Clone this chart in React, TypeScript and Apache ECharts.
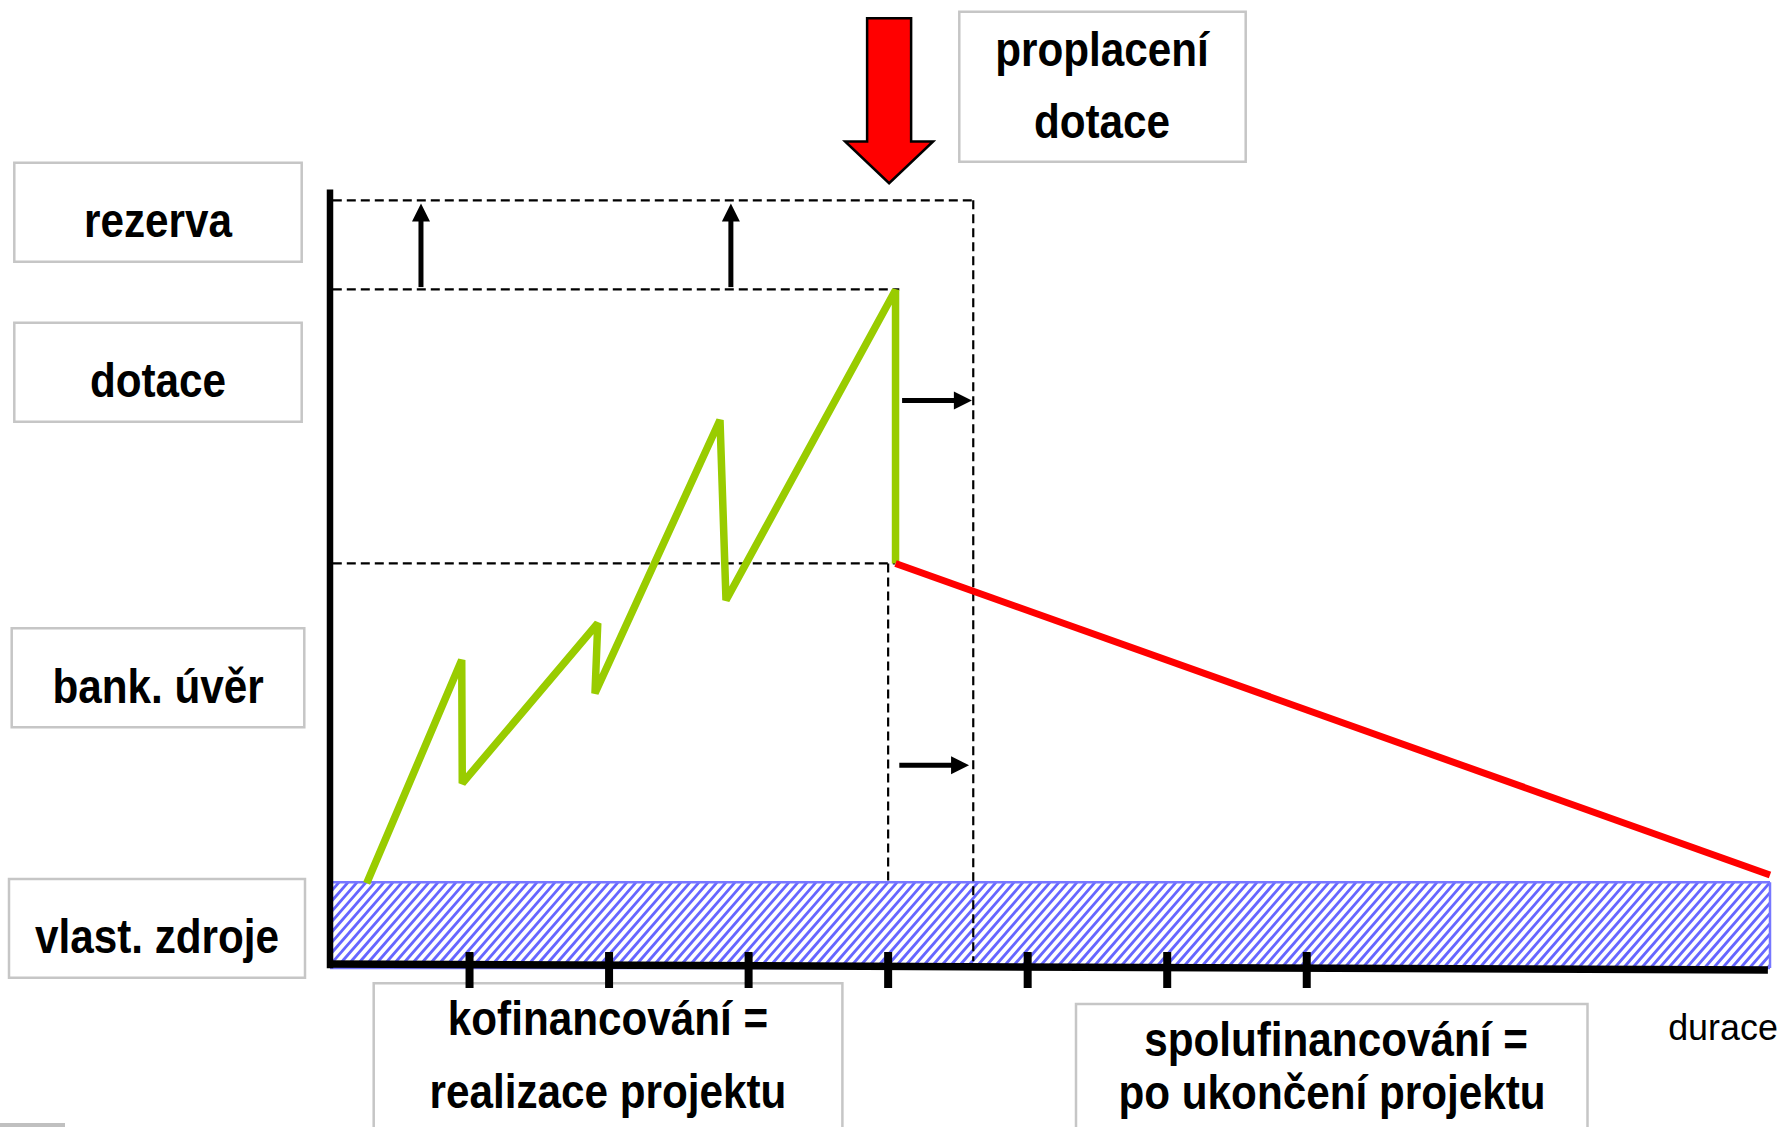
import React, { useEffect, useRef } from "react";
import * as echarts from "echarts";

// ---- data (axis units: x = time periods, y = financing volume) ----
const X_MAX = 10.32;
const Y_MAX = 100;

const tickValues = [1, 2, 3, 4, 5, 6, 7];

const ownFundsLevel = 10.8;
const ownFundsBase = -0.26;
const bankLevel = 51.94;
const grantLevel = 87.3;
const reserveLevel = 98.8;

const financingPath: [number, number][] = [
  [0.263, 10.67],
  [0.944, 39.48],
  [0.948, 23.57],
  [1.919, 44.22],
  [1.899, 35.19],
  [2.795, 70.45],
  [2.838, 47.2],
  [4.053, 87.23],
  [4.053, 51.94],
];

const repaymentPath: [number, number][] = [
  [4.053, 51.94],
  [10.32, 11.74],
];

const xAxisLine = [[-0.02, 0.26, 10.305, -0.52]];
const yAxisLine = [[0, -0.3, 0, 100.2]];

const guideSegments = [
  [0.02, reserveLevel, 4.61, reserveLevel],
  [4.61, reserveLevel, 4.61, 0.6],
  [0.02, grantLevel, 4.08, grantLevel],
  [0.02, bankLevel, 4.05, bankLevel],
  [4.0, bankLevel, 4.0, ownFundsLevel],
];

const upArrows = [
  [0.652, 87.6, 0.652, 98.4],
  [2.873, 87.6, 2.873, 98.4],
];
const rightArrows = [
  [4.1, 72.97, 4.6, 72.97],
  [4.08, 25.9, 4.58, 25.9],
];

// [x, shaft top, head base, tip]
const paymentArrow = [[4.007, 122.3, 106.4, 101.0]];

const ownFundsBlock = [[0, ownFundsLevel, X_MAX, ownFundsBase]];

const sourceLabels = ["rezerva", "dotace", "bank. úvěr", "vlast. zdroje"];
const paymentLabel = ["proplacení", "dotace"];
const phaseLabels = [
  ["kofinancování =", "realizace projektu"],
  ["spolufinancování =", "po ukončení projektu"],
];
const axisName = "durace";

// ---- rendering helpers ----
const FONT = "Liberation Sans";

function boldText(text: string, x: number, y: number) {
  return {
    type: "text",
    x,
    y,
    scaleX: 0.88,
    silent: true,
    style: {
      text,
      fill: "#000",
      fontSize: 48,
      fontWeight: "bold",
      fontFamily: FONT,
      textAlign: "center",
      textVerticalAlign: "middle",
      verticalAlign: "middle",
    },
  };
}

function box(x: number, y: number, w: number, h: number) {
  return {
    type: "rect",
    silent: true,
    shape: { x, y, width: w, height: h },
    style: { fill: "#fff", stroke: "#c6c6c6", lineWidth: 2.5 },
  };
}

function segEnds(api: any) {
  const a = api.coord([api.value(0), api.value(1)]);
  const b = api.coord([api.value(2), api.value(3)]);
  return [a, b];
}

function renderDashed(_p: any, api: any) {
  const [a, b] = segEnds(api);
  return {
    type: "line",
    shape: { x1: a[0], y1: a[1], x2: b[0], y2: b[1] },
    style: { stroke: "#000", lineWidth: 2.2, lineDash: [9, 5], fill: null },
  };
}

function renderSolid(width: number) {
  return (_p: any, api: any) => {
    const [a, b] = segEnds(api);
    return {
      type: "line",
      shape: { x1: a[0], y1: a[1], x2: b[0], y2: b[1] },
      style: { stroke: "#000", lineWidth: width, lineCap: "butt", fill: null },
    };
  };
}

function renderArrow(_p: any, api: any) {
  const [a, b] = segEnds(api);
  const dx = b[0] - a[0];
  const dy = b[1] - a[1];
  const len = Math.sqrt(dx * dx + dy * dy) || 1;
  const ux = dx / len;
  const uy = dy / len;
  const L = 18;
  const W = 9;
  const bx = b[0] - ux * L;
  const by = b[1] - uy * L;
  const nx = -uy;
  const ny = ux;
  return {
    type: "group",
    children: [
      {
        type: "line",
        shape: { x1: a[0], y1: a[1], x2: bx + ux, y2: by + uy },
        style: { stroke: "#000", lineWidth: 5, lineCap: "butt", fill: null },
      },
      {
        type: "polygon",
        shape: {
          points: [
            [b[0], b[1]],
            [bx + nx * W, by + ny * W],
            [bx - nx * W, by - ny * W],
          ],
        },
        style: { fill: "#000" },
      },
    ],
  };
}

function renderTick(_p: any, api: any) {
  const c = api.coord([api.value(0), 0]);
  return {
    type: "rect",
    shape: { x: c[0] - 4, y: c[1] - 14, width: 8, height: 36 },
    style: { fill: "#000" },
  };
}

function renderBlockArrow(_p: any, api: any) {
  const top = api.coord([api.value(0), api.value(1)]);
  const base = api.coord([api.value(0), api.value(2)]);
  const tip = api.coord([api.value(0), api.value(3)]);
  const cx = top[0];
  const sw = 22;
  const hw = 44;
  return {
    type: "polygon",
    shape: {
      points: [
        [cx - sw, top[1]],
        [cx + sw, top[1]],
        [cx + sw, base[1]],
        [cx + hw, base[1]],
        [cx, tip[1]],
        [cx - hw, base[1]],
        [cx - sw, base[1]],
      ],
    },
    style: { fill: "#ff0000", stroke: "#000", lineWidth: 2.5, lineJoin: "miter" },
  };
}

function renderHatch(_p: any, api: any) {
  const tl = api.coord([api.value(0), api.value(1)]);
  const br = api.coord([api.value(2), api.value(3)]);
  const x0 = tl[0];
  const y0 = tl[1];
  const x1 = br[0];
  const y1 = br[1];
  const h = y1 - y0;
  const k = 0.87;
  const p = 9;
  const children: any[] = [
    { type: "rect", shape: { x: x0, y: y0, width: x1 - x0, height: h }, style: { fill: "#fff" } },
  ];
  for (let bx = x0 - k * h; bx < x1; bx += p) {
    const tS = Math.max(0, (x0 - bx) / k);
    const tE = Math.min(h, (x1 - bx) / k);
    if (tE <= tS) continue;
    children.push({
      type: "line",
      shape: { x1: bx + k * tS, y1: y1 - tS, x2: bx + k * tE, y2: y1 - tE },
      style: { stroke: "#6666ff", lineWidth: 2.8, fill: null },
    });
  }
  const border = { stroke: "#7777ff", lineWidth: 2.5, fill: null };
  children.push({ type: "line", shape: { x1: x0, y1: y0, x2: x1, y2: y0 }, style: border });
  children.push({ type: "line", shape: { x1: x1, y1: y0, x2: x1, y2: y1 }, style: border });
  children.push({ type: "line", shape: { x1: x0, y1: y1, x2: x1, y2: y1 }, style: border });
  return { type: "group", children };
}

const segDims = ["x1", "y1", "x2", "y2"];

export default function App() {
  const ref = useRef<HTMLDivElement>(null);

  useEffect(() => {
    document.body.style.margin = "0";
    if (!ref.current) return;
    const chart = echarts.init(ref.current, null, { renderer: "svg" });

    const leftBoxes = [
      [14.3, 162.7, 287.4, 99, 220.4],
      [14.3, 322.7, 287.4, 99, 380.7],
      [11.7, 628.3, 292.6, 99, 686.4],
      [9, 879, 296, 98.7, 936.4],
    ];

    const graphics: any[] = [];
    leftBoxes.forEach((b, i) => {
      graphics.push(box(b[0], b[1], b[2], b[3]));
      graphics.push(boldText(sourceLabels[i], b[0] + b[2] / 2, b[4]));
    });
    graphics.push(box(959.3, 11.7, 286.4, 150));
    graphics.push(boldText(paymentLabel[0], 1102, 49.5));
    graphics.push(boldText(paymentLabel[1], 1102, 121.2));
    graphics.push(box(373.7, 983.3, 468.7, 170));
    graphics.push(boldText(phaseLabels[0][0], 608, 1019));
    graphics.push(boldText(phaseLabels[0][1], 608, 1091.4));
    graphics.push(box(1076, 1004, 511.5, 150));
    graphics.push(boldText(phaseLabels[1][0], 1336, 1039.7));
    graphics.push(boldText(phaseLabels[1][1], 1332, 1093));
    graphics.push({
      type: "text",
      x: 1723,
      y: 1027.5,
      scaleX: 0.97,
      silent: true,
      style: {
        text: axisName,
        fill: "#000",
        fontSize: 37,
        fontFamily: FONT,
        textAlign: "center",
        textVerticalAlign: "middle",
        verticalAlign: "middle",
      },
    });
    graphics.push({
      type: "rect",
      silent: true,
      shape: { x: 0, y: 1123, width: 65, height: 6 },
      style: { fill: "#c0c0c0" },
    });

    chart.setOption({
      animation: false,
      grid: { left: 330, right: 15, top: 191, bottom: 161 },
      xAxis: { type: "value", min: 0, max: X_MAX, show: false },
      yAxis: { type: "value", min: 0, max: Y_MAX, show: false },
      graphic: { elements: graphics },
      series: [
        {
          type: "custom",
          name: "vlast. zdroje",
          z: 1,
          clip: false,
          silent: true,
          dimensions: segDims,
          encode: { x: [0, 2], y: [1, 3] },
          renderItem: renderHatch,
          data: ownFundsBlock,
        },
        {
          type: "custom",
          name: "guides",
          z: 2,
          clip: false,
          silent: true,
          dimensions: segDims,
          encode: { x: [0, 2], y: [1, 3] },
          renderItem: renderDashed,
          data: guideSegments,
        },
        {
          type: "line",
          name: "financování",
          z: 3,
          clip: false,
          silent: true,
          symbol: "none",
          showSymbol: false,
          lineStyle: { color: "#99cc00", width: 7.5, join: "bevel", cap: "butt" },
          data: financingPath,
        },
        {
          type: "line",
          name: "splácení",
          z: 3,
          clip: false,
          silent: true,
          symbol: "none",
          showSymbol: false,
          lineStyle: { color: "#ff0000", width: 7, cap: "butt" },
          data: repaymentPath,
        },
        {
          type: "custom",
          name: "arrows",
          z: 4,
          clip: false,
          silent: true,
          dimensions: segDims,
          encode: { x: [0, 2], y: [1, 3] },
          renderItem: renderArrow,
          data: [...upArrows, ...rightArrows],
        },
        {
          type: "custom",
          name: "proplacení",
          z: 4,
          clip: false,
          silent: true,
          dimensions: ["x", "top", "base", "tip"],
          encode: { x: 0, y: [1, 2, 3] },
          renderItem: renderBlockArrow,
          data: paymentArrow,
        },
        {
          type: "custom",
          name: "y axis",
          z: 5,
          clip: false,
          silent: true,
          dimensions: segDims,
          encode: { x: [0, 2], y: [1, 3] },
          renderItem: renderSolid(6.5),
          data: yAxisLine,
        },
        {
          type: "custom",
          name: "x axis",
          z: 5,
          clip: false,
          silent: true,
          dimensions: segDims,
          encode: { x: [0, 2], y: [1, 3] },
          renderItem: renderSolid(7.5),
          data: xAxisLine,
        },
        {
          type: "custom",
          name: "ticks",
          z: 6,
          clip: false,
          silent: true,
          dimensions: ["x"],
          encode: { x: 0 },
          renderItem: renderTick,
          data: tickValues.map((v) => [v]),
        },
      ],
    });

    return () => {
      chart.dispose();
    };
  }, []);

  return <div ref={ref} style={{ width: 1785, height: 1127, display: "block" }} />;
}
